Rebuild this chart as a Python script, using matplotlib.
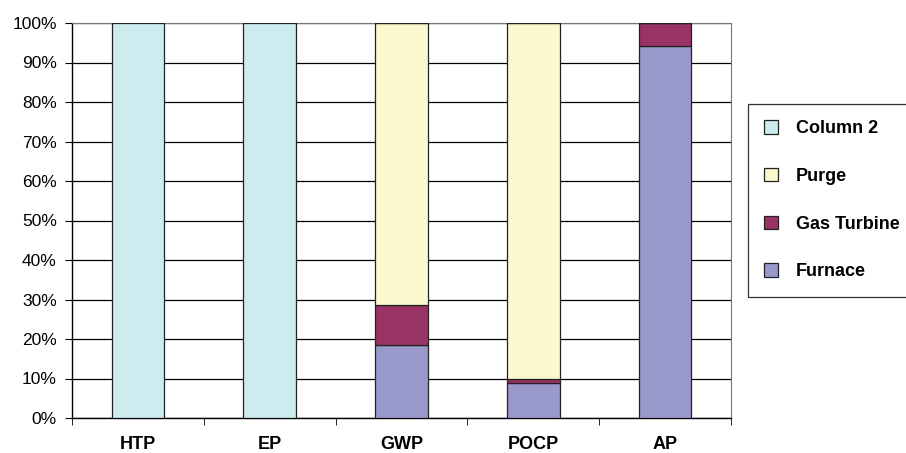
import matplotlib.pyplot as plt
from matplotlib.ticker import PercentFormatter
import numpy as np

plt.rcParams['font.family'] = ['Liberation Sans', 'DejaVu Sans']

categories = ['HTP', 'EP', 'GWP', 'POCP', 'AP']
furnace = [0.0, 0.0, 18.5, 8.9, 94.2]
gas_turbine = [0.0, 0.0, 10.1, 1.0, 5.8]
purge = [0.0, 0.0, 71.4, 90.1, 0.0]
column2 = [100.0, 100.0, 0.0, 0.0, 0.0]

series = [('Furnace', furnace, '#9999CC'),
          ('Gas Turbine', gas_turbine, '#993366'),
          ('Purge', purge, '#FAF8CC'),
          ('Column 2', column2, '#CCECF0')]

fig = plt.figure(figsize=(9.06, 4.53), dpi=100)
ax = fig.add_axes([72/906, 35/453, 659/906, 395/453])

x = np.arange(len(categories))
bottom = np.zeros(len(categories))
handles = []
for name, vals, col in series:
    vals = np.array(vals)
    b = ax.bar(x, vals, 0.4, bottom=bottom, color=col, edgecolor='#222222',
               linewidth=0.9, label=name, zorder=3)
    handles.append(b)
    bottom += vals

ax.set_xlim(-0.5, len(categories) - 0.5)
ax.set_ylim(0, 100)
ax.set_yticks(np.arange(0, 101, 10))
ax.yaxis.set_major_formatter(PercentFormatter(decimals=0))
ax.set_xticks(x)
ax.set_xticklabels(categories, fontweight='bold', fontsize=13)
ax.set_xticks(np.arange(-0.5, len(categories)), minor=True)
ax.tick_params(axis='x', which='major', length=0, pad=13)
ax.tick_params(axis='x', which='minor', length=5, direction='out', color='black')
ax.tick_params(axis='y', length=5, direction='out', labelsize=12.5, pad=6)
ax.grid(axis='y', color='black', linewidth=0.9, zorder=0)

for s in ['top', 'right']:
    ax.spines[s].set_color('#777777')
    ax.spines[s].set_linewidth(0.8)
ax.spines['left'].set_linewidth(1.0)
ax.spines['bottom'].set_linewidth(1.0)

leg = fig.legend(handles[::-1], [s[0] for s in series][::-1],
                 loc='upper left', bbox_to_anchor=(748/906, 1 - 104/453),
                 frameon=True, fancybox=False, edgecolor='black',
                 prop={'weight': 'bold', 'size': 13}, labelspacing=1.7,
                 handlelength=0.75, handleheight=0.75, handletextpad=1.0,
                 borderpad=0.9, borderaxespad=0)
leg.get_frame().set_linewidth(0.9)

fig.savefig('out.png', dpi=100)
